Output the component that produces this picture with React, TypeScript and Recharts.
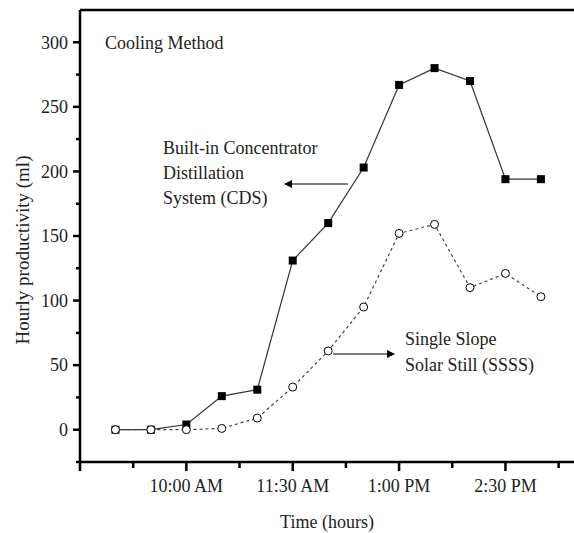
import { LineChart, Line, XAxis, YAxis, ReferenceLine } from 'recharts';

// minutes after midnight, one reading every half hour (9:00 AM .. 3:00 PM)
const times = [540, 570, 600, 630, 660, 690, 720, 750, 780, 810, 840, 870, 900];
const cdsValues = [0, 0, 4, 26, 31, 131, 160, 203, 267, 280, 270, 194, 194];
const ssssValues = [0, 0, 0, 1, 9, 33, 61, 95, 152, 159, 110, 121, 103];

const xMajorTicks = [510, 600, 690, 780, 870];
const xMinorTicks = [555, 645, 735, 825, 915];
const xTickLabels: Record<number, string> = {
  600: '10:00 AM',
  690: '11:30 AM',
  780: '1:00 PM',
  870: '2:30 PM',
};
const yMajorTicks = [0, 50, 100, 150, 200, 250, 300];
const yMinorTicks = [-25, 25, 75, 125, 175, 225, 275];

const data = times.map((t, i) => ({ t, cds: cdsValues[i], ssss: ssssValues[i] }));

const FONT = '"Liberation Serif", "Times New Roman", serif';
const INK = '#222';

const XTick = ({ x, y, payload }: any) => {
  const major = xMajorTicks.includes(payload.value);
  const label = xTickLabels[payload.value];
  return (
    <g>
      <line x1={x} x2={x} y1={y} y2={y + (major ? 9 : 6)} stroke="#000" strokeWidth={2.5} />
      {label && (
        <text x={x} y={y + 30} textAnchor="middle" fontSize={18} fontFamily={FONT} fill={INK}>
          {label}
        </text>
      )}
    </g>
  );
};

const YTick = ({ x, y, payload }: any) => {
  const major = yMajorTicks.includes(payload.value);
  return (
    <g>
      <line x1={x - (major ? 7 : 4)} x2={x} y1={y} y2={y} stroke="#000" strokeWidth={2.5} />
      {major && (
        <text x={x - 12} y={y} dy="0.35em" textAnchor="end" fontSize={18} fontFamily={FONT} fill={INK}>
          {payload.value}
        </text>
      )}
    </g>
  );
};

const SquareDot = ({ cx, cy }: any) => (
  <rect x={cx - 4} y={cy - 4} width={8} height={8} fill="#000" />
);

export default function App() {
  return (
    <div style={{ position: 'absolute', left: 0, top: 0, width: 574, height: 533, background: '#fff' }}>
      <LineChart width={574} height={533} data={data} margin={{ top: 10, right: 0, left: 0, bottom: 0 }}>
        <XAxis
          dataKey="t"
          type="number"
          domain={[510, 928]}
          ticks={[...xMajorTicks, ...xMinorTicks].sort((a, b) => a - b)}
          allowDataOverflow
          height={71}
          tickSize={0}
          tickMargin={0}
          tickLine={false}
          tick={<XTick />}
          axisLine={{ stroke: '#000', strokeWidth: 2.5 }}
          label={{ value: 'Time (hours)', position: 'insideBottom', offset: 5, fontSize: 18, fontFamily: FONT, fill: INK }}
        />
        <YAxis
          type="number"
          domain={[-25, 325]}
          ticks={[...yMajorTicks, ...yMinorTicks].sort((a, b) => a - b)}
          allowDataOverflow
          width={80}
          tickSize={0}
          tickMargin={0}
          tickLine={false}
          tick={<YTick />}
          axisLine={{ stroke: '#000', strokeWidth: 2.5 }}
        />
        <ReferenceLine y={325} stroke="#000" strokeWidth={2.5} />
        <Line
          dataKey="cds"
          stroke="#333"
          strokeWidth={1.2}
          dot={<SquareDot />}
          activeDot={false}
          isAnimationActive={false}
        />
        <Line
          dataKey="ssss"
          stroke="#444"
          strokeWidth={1.2}
          strokeDasharray="3 3"
          dot={{ r: 4, fill: '#fff', stroke: '#000', strokeWidth: 1, strokeDasharray: '' }}
          activeDot={false}
          isAnimationActive={false}
        />
      </LineChart>
      <svg width={574} height={533} style={{ position: 'absolute', left: 0, top: 0, pointerEvents: 'none' }}>
        <defs>
          <marker id="head" markerWidth="8" markerHeight="8" refX="7" refY="4" orient="auto" markerUnits="userSpaceOnUse">
            <path d="M0,0 L8,4 L0,8 Z" fill="#000" />
          </marker>
        </defs>
        <g fontFamily={FONT} fontSize={18} fill={INK}>
          <text x={22} y={250} dy="0.35em" textAnchor="middle" fontSize={19} transform="rotate(-90 22 250)">
            Hourly productivity (ml)
          </text>
          <text x={105} y={43} dy="0.35em">Cooling Method</text>
          <text x={163} y={148} dy="0.35em">Built-in Concentrator</text>
          <text x={163} y={173} dy="0.35em">Distillation</text>
          <text x={163} y={198} dy="0.35em">System (CDS)</text>
          <text x={405} y={339} dy="0.35em">Single Slope</text>
          <text x={405} y={365} dy="0.35em">Solar Still (SSSS)</text>
        </g>
        <line x1={348} y1={184} x2={285} y2={184} stroke="#000" strokeWidth={1.2} markerEnd="url(#head)" />
        <line x1={333} y1={354} x2={394} y2={354} stroke="#000" strokeWidth={1.2} markerEnd="url(#head)" />
      </svg>
    </div>
  );
}
